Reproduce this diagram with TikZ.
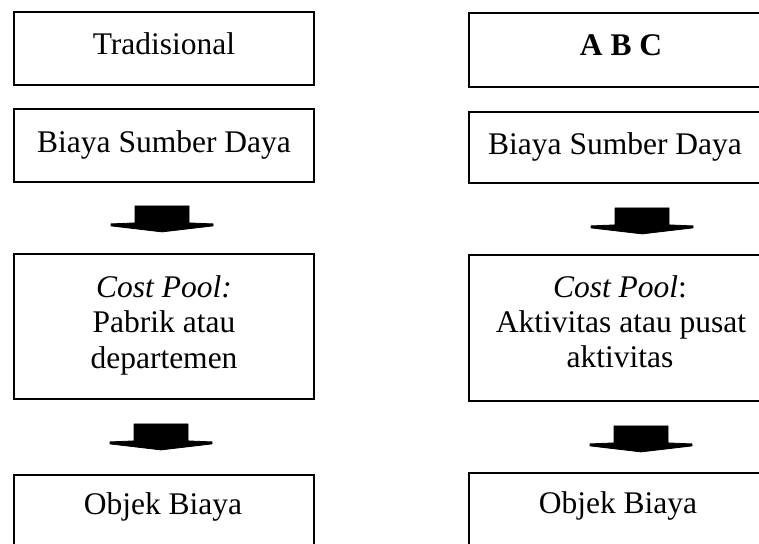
\documentclass[tikz,border=0pt]{standalone}
\usepackage{fontspec}
\setmainfont{Liberation Serif}
\usetikzlibrary{calc}
\tikzset{
  box/.style={draw=black, line width=1.8pt, rectangle, minimum width=300pt, inner sep=0pt},
  txt/.style={anchor=base, inner sep=0pt, font=\fontsize{31.5}{36}\selectfont},
  blk/.style={fill=black, draw=black, line width=0.8pt, line join=round},
}
\newcommand{\blockarrow}[1]{%
  \filldraw[blk] ($(#1)+(-27,0)$) -- ($(#1)+(27,0)$) -- ($(#1)+(27,17)$) -- ($(#1)+(51,18)$)
    -- ($(#1)+(51,20)$) -- ($(#1)+(0,26)$) -- ($(#1)+(-51,20)$) -- ($(#1)+(-51,18)$)
    -- ($(#1)+(-27,17)$) -- cycle;}
\begin{document}
\begin{tikzpicture}[x=1pt,y=-1pt]
\useasboundingbox (0,0) rectangle (759,543);
\clip (0,0) rectangle (759,543);
% left column
\node[box, minimum height=73pt] (L1) at (164,48.5) {};
\node[box, minimum height=73pt] (L2) at (164,145.5) {};
\node[box, minimum height=145pt] (L3) at (164,326.5) {};
\node[box, minimum height=100pt] (L4) at (164,525) {};
% right column
\node[box, minimum height=74pt] (R1) at (619,50) {};
\node[box, minimum height=71pt] (R2) at (619,147.5) {};
\node[box, minimum height=146pt] (R3) at (619,328) {};
\node[box, minimum height=100pt] (R4) at (619,523) {};
% texts
\node[txt] (L1t) at (164,54) {Tradisional};
\node[txt] (L2t) at (164,152) {Biaya Sumber Daya};
\node[txt] (L3a) at (164,297) {\itshape Cost Pool:};
\node[txt] (L3b) at (164,332) {Pabrik atau};
\node[txt] (L3c) at (164,368) {departemen};
\node[txt] (L4t) at (163,514) {Objek Biaya};
\node[txt] (R1t) at (621,56) {\bfseries A B C};
\node[txt] (R2t) at (615,154) {Biaya Sumber Daya};
\node[txt] (R3a) at (620,297) {\textit{Cost Pool}:};
\node[txt] (R3b) at (621,332) {Aktivitas atau pusat};
\node[txt] (R3c) at (620,367) {aktivitas};
\node[txt] (R4t) at (618,513) {Objek Biaya};
% block arrows between boxes
\coordinate (A1) at ($(L2.south)+(-2,23)$);
\coordinate (A2) at ($(L3.south)+(-3,24)$);
\coordinate (A3) at ($(R2.south)+(23,24)$);
\coordinate (A4) at ($(R3.south)+(22,24)$);
\blockarrow{A1}
\blockarrow{A2}
\blockarrow{A3}
\blockarrow{A4}
\end{tikzpicture}
\end{document}
